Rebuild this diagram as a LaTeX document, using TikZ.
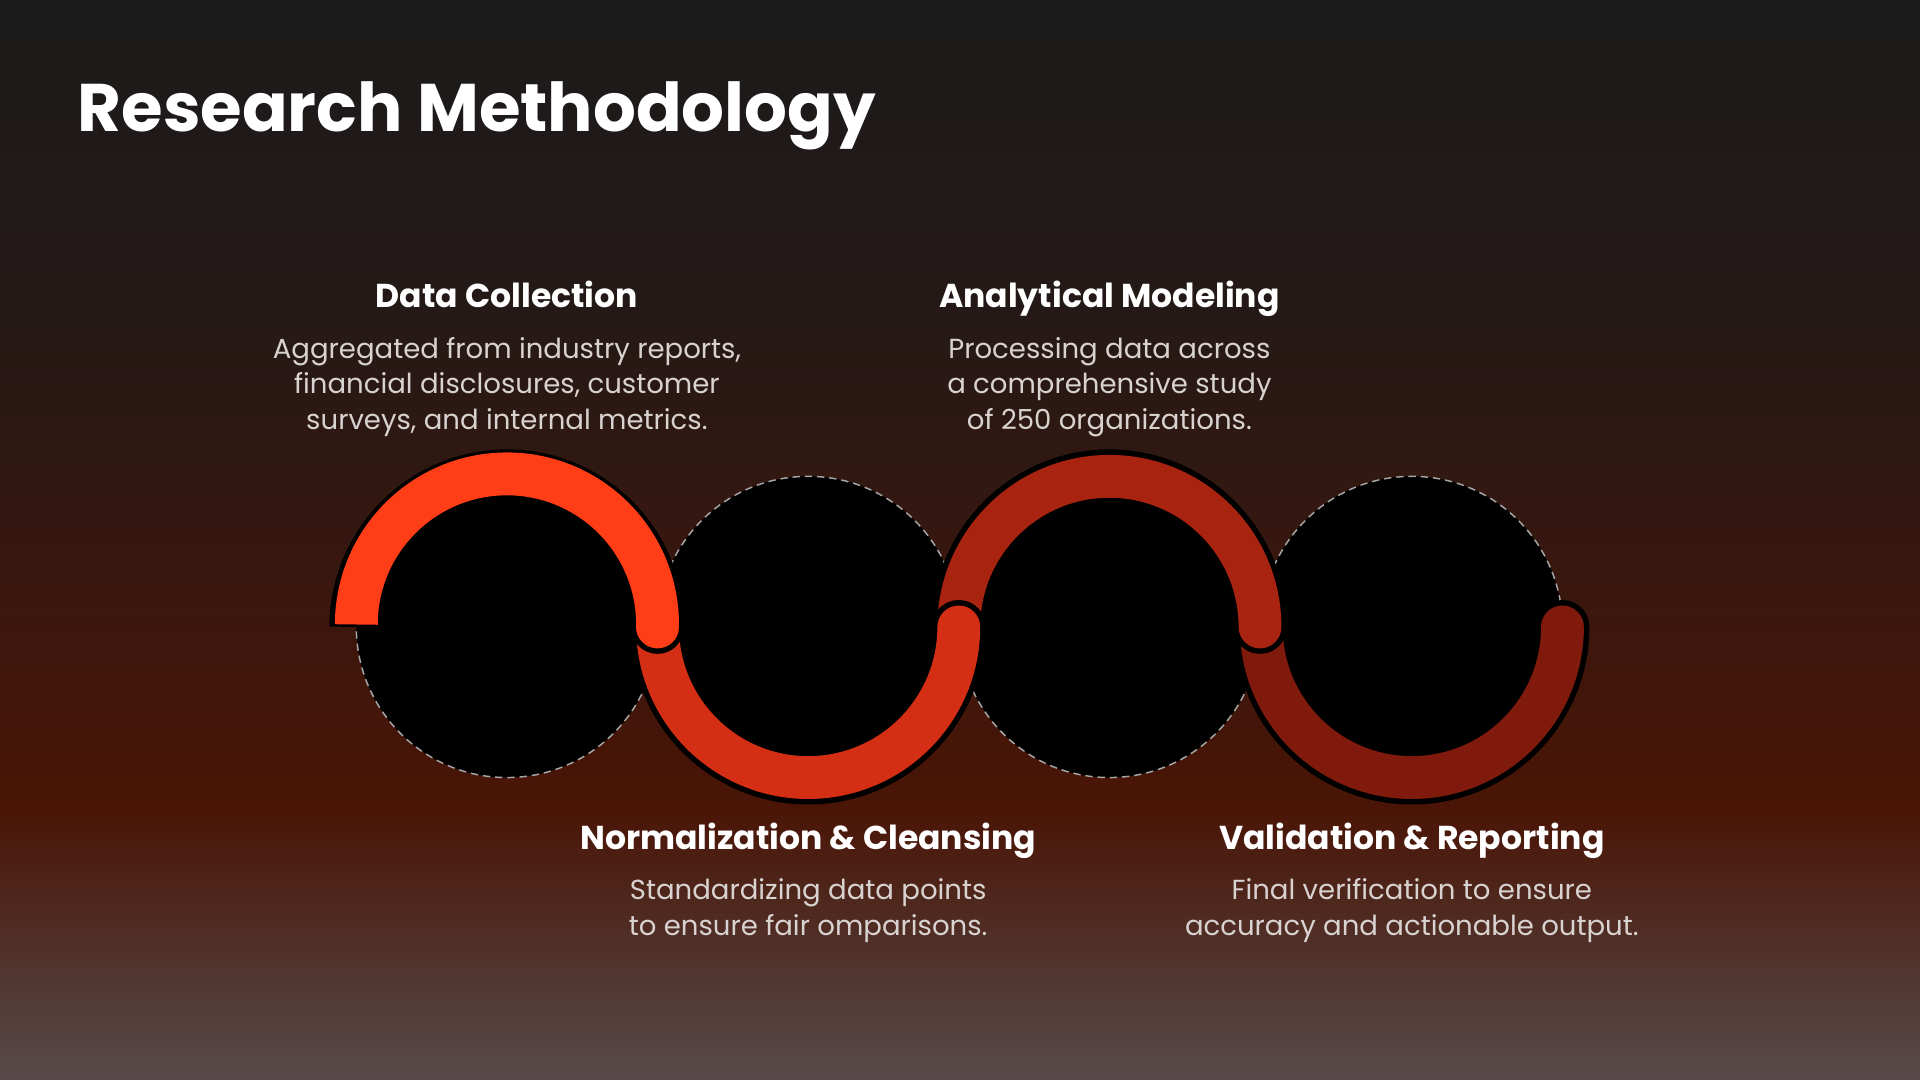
\documentclass[tikz,border=0pt]{standalone}
\usepackage{fontspec}
\setmainfont{Poppins}
\definecolor{c1}{HTML}{1B1B1B}
\definecolor{c2}{HTML}{241917}
\definecolor{c3}{HTML}{4A1506}
\definecolor{c4}{HTML}{574A4A}
\definecolor{a1}{HTML}{FF3D17}
\definecolor{a2}{HTML}{D42E14}
\definecolor{a3}{HTML}{A82410}
\definecolor{a4}{HTML}{801A0C}
\definecolor{txt}{HTML}{D8D2D0}
\begin{document}
\begin{tikzpicture}[x=1pt,y=-1pt,
  head/.style={text=white,font=\fontsize{27}{32}\selectfont\bfseries,anchor=base},
  body/.style={text=txt,font=\fontsize{22.5}{29}\selectfont,align=center,anchor=north},
  disc/.style={circle,minimum size=246pt,fill=black,draw=white!65!black,dashed,line width=1.2pt,dash pattern=on 6pt off 4pt,inner sep=0},
  rim/.style={line width=44pt,black},
  band/.style={line width=35pt}]
\begin{scope}[yscale=-1]
\shade[top color=c1,bottom color=c2] (0,0) rectangle (1568,-250.5);
\shade[top color=c2,bottom color=c3] (0,-250) rectangle (1568,-660.5);
\shade[top color=c3,bottom color=c4] (0,-660) rectangle (1568,-882);
\end{scope}
\useasboundingbox (0,0) rectangle (1568,882);
\node[text=white,font=\fontsize{55}{64}\selectfont\bfseries,anchor=base west] (title) at (60,107) {Research Methodology};
\node[disc] (c1) at (414,512) {};
\node[disc] (c2) at (660,512) {};
\node[disc] (c3) at (906,512) {};
\node[disc] (c4) at (1153,512) {};
% arcs (drawn from back to front)
\draw[rim,line cap=round] (1030,512) arc[start angle=180,end angle=0,radius=123];
\draw[band,a4,line cap=round] (1030,512) arc[start angle=180,end angle=0,radius=123];
\draw[rim,line cap=round] (783,512) arc[start angle=180,end angle=360,radius=123];
\draw[band,a3,line cap=round] (783,512) arc[start angle=180,end angle=360,radius=123];
\draw[rim,line cap=round] (537,512) arc[start angle=180,end angle=0,radius=123];
\draw[band,a2,line cap=round] (537,512) arc[start angle=180,end angle=0,radius=123];
\draw[rim,line cap=butt] (291,512) arc[start angle=180,end angle=360,radius=123];
\draw[line width=44pt,black,line cap=round] (537,511.9) -- (537,512);
\draw[band,a1,line cap=butt] (291,510) arc[start angle=180,end angle=360,radius=123];
\draw[band,a1,line cap=round] (537,511.9) -- (537,512);
% texts
\node[head] (h1) at (414,251) {Data Collection};
\node[body] (b1) at (414,272) {Aggregated from industry reports,\\financial disclosures, customer\\surveys, and internal metrics.};
\node[head] (h3) at (906,251) {Analytical Modeling};
\node[body] (b3) at (906,272) {Processing data across\\a comprehensive study\\of 250 organizations.};
\node[head] (h2) at (660,694) {Normalization \& Cleansing};
\node[body] (b2) at (660,714) {Standardizing data points\\to ensure fair omparisons.};
\node[head] (h4) at (1153,694) {Validation \& Reporting};
\node[body] (b4) at (1153,714) {Final verification to ensure\\accuracy and actionable output.};
\end{tikzpicture}
\end{document}
